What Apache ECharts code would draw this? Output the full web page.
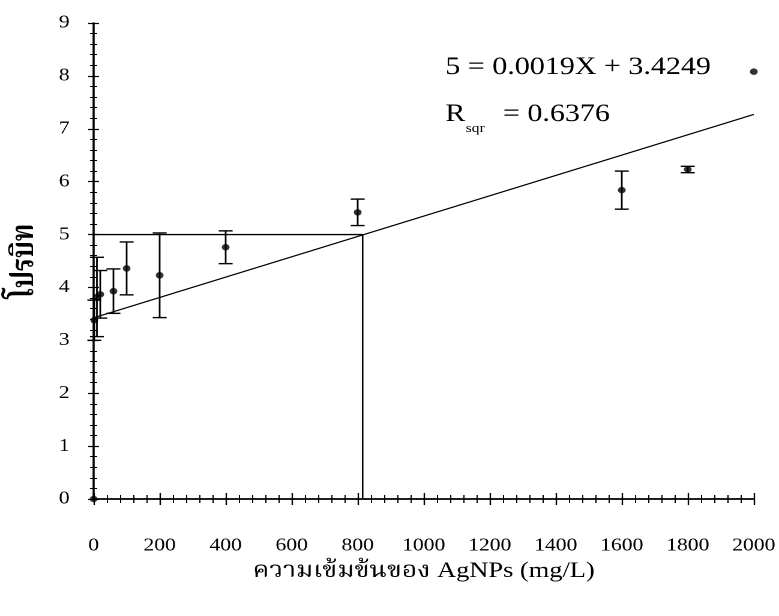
<!DOCTYPE html>
<html>
<head>
<meta charset="utf-8">
<script src="https://cdn.jsdelivr.net/npm/echarts@6/dist/echarts.min.js"></script>
<style>
  html, body { margin: 0; padding: 0; background: #fff; overflow: hidden; }
  /* ภาพต้นฉบับถูกยืดแนวนอน ~1.2 เท่า จึงวาดที่ความกว้าง 649 แล้วยืดออก */
  #chart { width: 649px; height: 616px; transform: scaleX(1.2003); transform-origin: 0 0; }
</style>
</head>
<body>
<div id="chart"></div>
<script>
// ข้อมูลจุด (ความเข้มข้น AgNPs, ค่าโปรบิท, error)
var concX = [0, 2, 10, 20, 60, 100, 200, 400, 800, 1600, 1800, 2000];
var probit = [0, 3.38, 3.82, 3.87, 3.93, 4.36, 4.23, 4.76, 5.42, 5.84, 6.23, 8.08];
var errBar = [0, 0.38, 0.75, 0.45, 0.42, 0.5, 0.8, 0.31, 0.25, 0.36, 0.06, 0];

// เส้นถดถอย
var fitX = [0, 2000];
var fitY = [3.4249, 7.27];

// เส้นอ่านค่าโปรบิท 5
var guideX = [0, 815, 815];
var guideY = [5, 5, 0];

var xTicks = [0, 200, 400, 600, 800, 1000, 1200, 1400, 1600, 1800, 2000];
var yTicks = [0, 1, 2, 3, 4, 5, 6, 7, 8, 9];

var serif = '"Liberation Serif", "Times New Roman", serif';
var thai = '"Liberation Serif", "Noto Serif Thai", "Noto Sans Thai", serif';

(function () {
    var myChart = echarts.init(document.getElementById('chart'), null, { devicePixelRatio: 2 });

    var points = concX.map(function (x, i) { return [x, probit[i]]; });
    var bars = concX.map(function (x, i) { return [x, probit[i] - errBar[i], probit[i] + errBar[i]]; })
        .filter(function (d) { return d[2] > d[1]; });
    var fit = fitX.map(function (x, i) { return [x, fitY[i]]; });
    var guide = guideX.map(function (x, i) { return [x, guideY[i]]; });

    var axisLine = { show: true, lineStyle: { color: '#000', width: 1.5 } };
    var xTick = { show: true, inside: false, length: 6, lineStyle: { color: '#000', width: 1.2 } };
    var xMinor = { show: true, splitNumber: 5, length: 4, lineStyle: { color: '#000', width: 1 } };
    var yTick = { show: true, inside: false, length: 4.5, lineStyle: { color: '#000', width: 1.2 } };
    var yMinor = { show: true, splitNumber: 5, length: 3, lineStyle: { color: '#000', width: 1 } };

    var option = {
        backgroundColor: '#fff',
        animation: false,
        grid: { left: 77.5, right: 20, top: 23, bottom: 117 },
        xAxis: [{
            type: 'value', min: 0, max: 2000, interval: 200,
            name: 'ความเข้มข้นของ AgNPs (mg/L)',
            nameLocation: 'middle', nameGap: 61,
            nameTextStyle: { color: '#000', fontSize: 22, fontFamily: thai },
            axisLine: axisLine, axisTick: xTick, minorTick: xMinor,
            splitLine: { show: false },
            axisLabel: {
                color: '#000', fontSize: 18, fontFamily: serif, margin: 38,
                formatter: function (v) { return xTicks.indexOf(v) >= 0 ? String(v) : ''; }
            }
        }, {
            type: 'value', min: 0, max: 2000, interval: 200, position: 'top',
            axisLine: axisLine, axisTick: xTick, minorTick: xMinor,
            splitLine: { show: false }, axisLabel: { show: false }
        }],
        yAxis: [{
            type: 'value', min: 0, max: 9, interval: 1,
            name: 'โปรบิท',
            nameLocation: 'middle', nameGap: 44, nameRotate: 90,
            nameTextStyle: { color: '#000', fontSize: 26, fontWeight: 'bold', fontFamily: thai },
            axisLine: axisLine, axisTick: yTick, minorTick: yMinor,
            splitLine: { show: false },
            axisLabel: {
                color: '#000', fontSize: 18, fontFamily: serif, margin: 20,
                formatter: function (v) { return yTicks.indexOf(v) >= 0 ? String(v) : ''; }
            }
        }, {
            type: 'value', min: 0, max: 9, interval: 1, position: 'right',
            axisLine: axisLine, axisTick: yTick, minorTick: yMinor,
            splitLine: { show: false }, axisLabel: { show: false }
        }],
        series: [{
            name: 'guide', type: 'line', data: guide, symbol: 'none',
            lineStyle: { color: '#000', width: 1.3 }, z: 2
        }, {
            name: 'fit', type: 'line', data: fit, symbol: 'none',
            lineStyle: { color: '#000', width: 1.2 }, z: 2
        }, {
            name: 'error', type: 'custom', data: bars, z: 3,
            renderItem: function (params, api) {
                var lo = api.coord([api.value(0), api.value(1)]);
                var hi = api.coord([api.value(0), api.value(2)]);
                var w = 5.8;
                var style = { stroke: '#000', lineWidth: 1.4 };
                return {
                    type: 'group',
                    children: [
                        { type: 'line', shape: { x1: lo[0], y1: lo[1], x2: hi[0], y2: hi[1] }, style: style },
                        { type: 'line', shape: { x1: lo[0] - w, y1: lo[1], x2: lo[0] + w, y2: lo[1] }, style: style },
                        { type: 'line', shape: { x1: hi[0] - w, y1: hi[1], x2: hi[0] + w, y2: hi[1] }, style: style }
                    ]
                };
            }
        }, {
            name: 'probit', type: 'scatter', data: points, symbolSize: 6.5, z: 4,
            itemStyle: { color: '#000' }
        }],
        graphic: [{
            type: 'text', left: 371, top: 55,
            style: { text: '5 = 0.0019X + 3.4249', font: '25px ' + serif, fill: '#000' }
        }, {
            type: 'text', left: 371, top: 102,
            style: { text: 'R', font: '25px ' + serif, fill: '#000' }
        }, {
            type: 'text', left: 388, top: 122,
            style: { text: 'sqr', font: '13px ' + serif, fill: '#000' }
        }, {
            type: 'text', left: 419, top: 102,
            style: { text: '= 0.6376', font: '25px ' + serif, fill: '#000' }
        }]
    };

    myChart.setOption(option);
    window.addEventListener('resize', function () {
        myChart.resize();
    });
})();
</script>
</body>
</html>
